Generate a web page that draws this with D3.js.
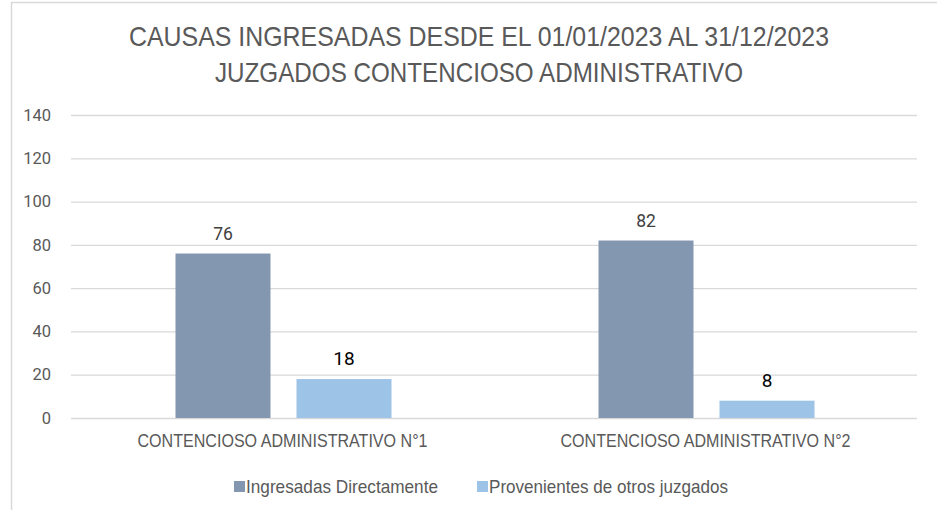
<!DOCTYPE html>
<html>
<head>
<meta charset="utf-8">
<script src="https://cdn.jsdelivr.net/npm/d3@7"></script>
<style>
  body { margin: 0; background: #fff; }
  .narrow { font-family: "Liberation Sans", Arial, sans-serif; }
  .num { font-family: Roboto, "Liberation Sans", Arial, sans-serif; }
</style>
</head>
<body>
<script>
var categories = ["CONTENCIOSO ADMINISTRATIVO N°1", "CONTENCIOSO ADMINISTRATIVO N°2"],
    seriesNames = ["Ingresadas Directamente", "Provenientes de otros juzgados"],
    directas = [76, 82],
    otros = [18, 8],
    yTicks = [0, 20, 40, 60, 80, 100, 120, 140],
    titleLines = ["CAUSAS INGRESADAS DESDE EL 01/01/2023 AL 31/12/2023", "JUZGADOS CONTENCIOSO ADMINISTRATIVO"]

var colors = ["#8497B0", "#9DC3E6"],
    labelColors = ["#404040", "#000000"],
    labelSizes = [17.5, 19],
    titleWidths = [700, 528],
    legendWidths = [192, 239]

var W = 937, H = 510
var margin = { top: 115, right: 20, bottom: 92, left: 71 },
    width = W - margin.left - margin.right,
    height = H - margin.top - margin.bottom

var svg = d3.select("body").append("svg")
    .attr("width", W)
    .attr("height", H)

// outer chart frame
svg.append("rect")
    .attr("x", 11.5).attr("y", 2.5)
    .attr("width", W + 10).attr("height", H + 10)
    .style("fill", "none").style("stroke", "#d9d9d9").style("stroke-width", 1.5)

svg.selectAll(".title")
    .data(titleLines)
    .enter().append("text")
    .attr("class", "title narrow")
    .attr("x", 479)
    .attr("y", function(d, i) { return 46 + i * 36 })
    .attr("text-anchor", "middle")
    .attr("textLength", function(d, i) { return titleWidths[i] })
    .attr("lengthAdjust", "spacingAndGlyphs")
    .style("font-size", "27.5px")
    .style("fill", "#595959")
    .text(function(d) { return d })

var g = svg.append("g")
    .attr("transform", "translate(" + margin.left + "," + margin.top + ")")

var y = d3.scaleLinear().domain([0, 140]).range([height, 0])
var x0 = d3.scaleBand().domain(categories).range([0, width])
var x1 = d3.scaleBand().domain(seriesNames).range([0, 216]).paddingInner(0.215)

var yAxis = d3.axisLeft(y).tickValues(yTicks).tickSize(-width).tickPadding(20)
var ya = g.append("g").attr("class", "num").call(yAxis)
ya.select(".domain").remove()
ya.selectAll("line").style("stroke", "#d9d9d9").style("stroke-width", 1.3)
ya.selectAll("text").style("font-size", "16.5px").style("fill", "#595959")

var rows = categories.map(function(c, i) {
  return { cat: c, vals: [directas[i], otros[i]] }
})

var groups = g.selectAll(".grp")
    .data(rows)
    .enter().append("g")
    .attr("class", "grp")
    .attr("transform", function(d) {
      return "translate(" + (x0(d.cat) + x0.bandwidth() / 2 - 107) + ",0)"
    })

function cells(d) {
  return d.vals.map(function(v, j) { return { name: seriesNames[j], v: v, j: j } })
}

groups.selectAll("rect")
    .data(cells)
    .enter().append("rect")
    .attr("x", function(d) { return x1(d.name) })
    .attr("y", function(d) { return y(d.v) })
    .attr("width", x1.bandwidth())
    .attr("height", function(d) { return height - y(d.v) })
    .style("fill", function(d) { return colors[d.j] })

groups.selectAll(".lbl")
    .data(cells)
    .enter().append("text")
    .attr("class", "lbl num")
    .attr("x", function(d) { return x1(d.name) + x1.bandwidth() / 2 })
    .attr("y", function(d) { return y(d.v) - 14 })
    .attr("text-anchor", "middle")
    .style("font-size", function(d) { return labelSizes[d.j] + "px" })
    .style("fill", function(d) { return labelColors[d.j] })
    .text(function(d) { return d.v })

g.selectAll(".cat")
    .data(categories)
    .enter().append("text")
    .attr("class", "cat narrow")
    .attr("x", function(d) { return x0(d) + x0.bandwidth() / 2 })
    .attr("y", height + 29)
    .attr("text-anchor", "middle")
    .attr("textLength", 290)
    .attr("lengthAdjust", "spacingAndGlyphs")
    .style("font-size", "19px")
    .style("fill", "#595959")
    .text(function(d) { return d })

var legend = svg.selectAll(".legend")
    .data(seriesNames)
    .enter().append("g")
    .attr("class", "legend")
    .attr("transform", function(d, i) { return "translate(" + (234 + i * 243) + ",493)" })

legend.append("rect")
    .attr("x", 0).attr("y", -12)
    .attr("width", 11).attr("height", 11)
    .style("fill", function(d, i) { return colors[i] })

legend.append("text")
    .attr("class", "narrow")
    .attr("x", 12).attr("y", 0)
    .attr("textLength", function(d, i) { return legendWidths[i] })
    .attr("lengthAdjust", "spacingAndGlyphs")
    .style("font-size", "19px")
    .style("fill", "#595959")
    .text(function(d) { return d })
</script>
</body>
</html>
